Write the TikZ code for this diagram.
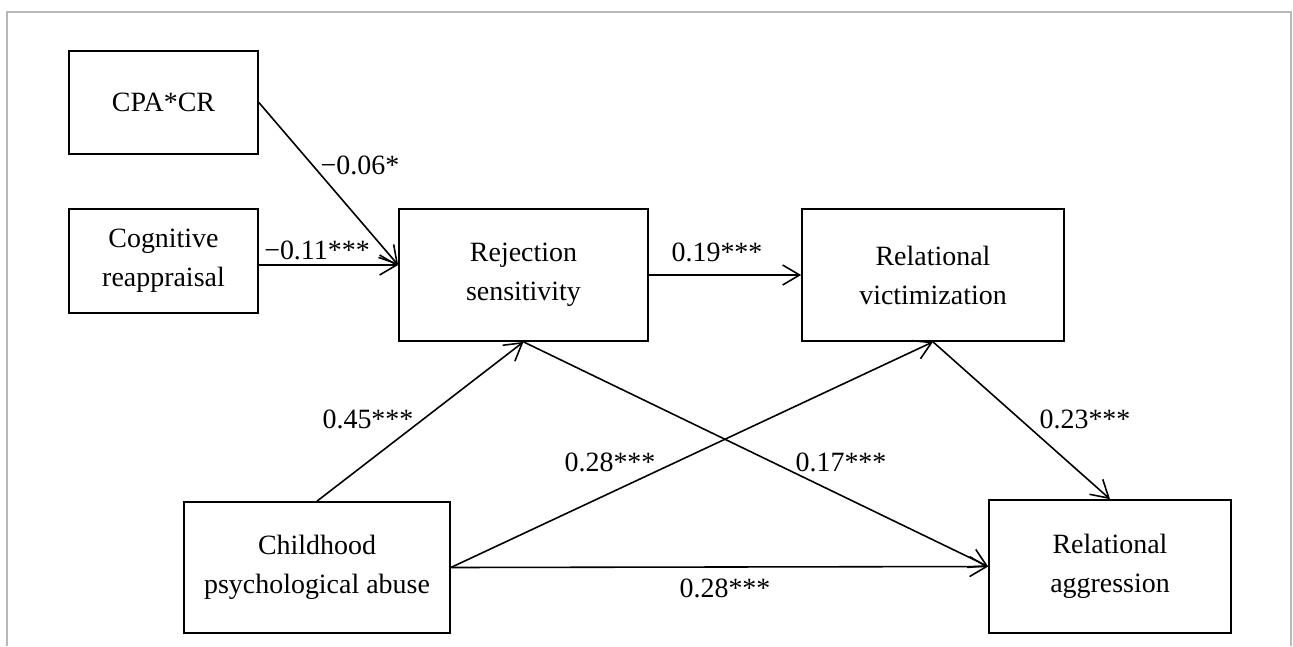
\documentclass[tikz,border=0pt]{standalone}
\usepackage{fontspec}
\setmainfont{Liberation Serif}
\usetikzlibrary{positioning,arrows.meta}
\tikzset{var node/.style={rectangle,draw,line width=1pt,align=center,inner
sep=0pt,font=\fontsize{15.9}{22.2}\selectfont}}
\tikzset{coef node/.style={inner sep=0pt,font=\fontsize{15.9}{19}\selectfont}}
\tikzset{path arrow/.style={line width=0.9pt,-{Straight Barb[length=0.34cm,width=0.4cm]}}}

\begin{document}
\begin{tikzpicture}[x=0.02cm,y=-0.02cm]
\useasboundingbox (0,0) rectangle (1293,646);

% frame
\draw[gray!55,line width=0.8pt] (7,646) -- (7,12) -- (1291,12) -- (1291,646);

% variables
\node[var node,minimum width=3.78cm,minimum height=2.06cm] (cpacr) at (163.5,102.5) {CPA*CR};
\node[var node,minimum width=3.78cm,minimum height=2.08cm] (cog) at (163.5,261) {Cognitive\\reappraisal};
\node[var node,minimum width=4.98cm,minimum height=2.64cm] (rejsens) at (523.5,275) {Rejection\\sensitivity};
\node[var node,minimum width=5.24cm,minimum height=2.64cm] (relvic) at (933,275) {Relational\\victimization};
\node[var node,minimum width=5.32cm,minimum height=2.62cm] (abuse) at (317,567.5) {Childhood\\psychological abuse};
\node[var node,minimum width=4.84cm,minimum height=2.66cm] (relagg) at (1110,566.5) {Relational\\aggression};

% paths
\coordinate (rin) at ([yshift=0.2cm]rejsens.west);
\draw[path arrow] (cpacr.east) -- (rin);
\draw[path arrow] (cog.east |- rin) -- (rin);
\draw[path arrow] (rejsens.east) -- (relvic.west);
\draw[path arrow] (abuse.north) -- (rejsens.south);
\draw[path arrow] (abuse.east) -- (relvic.south);
\draw[path arrow] (abuse.east) -- (relagg.west);
\draw[path arrow] (rejsens.south) -- (relagg.west);
\draw[path arrow] (relvic.south) -- (relagg.north);

% coefficients
\node[coef node] (b1) at (360,165) {−0.06*};
\node[coef node] (b2) at (317,250) {−0.11***};
\node[coef node] (b3) at (717,252) {0.19***};
\node[coef node] (b4) at (368,419) {0.45***};
\node[coef node] (b5) at (610,462) {0.28***};
\node[coef node] (b6) at (841,462) {0.17***};
\node[coef node] (b7) at (1085,419) {0.23***};
\node[coef node] (b8) at (725,588) {0.28***};
\end{tikzpicture}
\end{document}
